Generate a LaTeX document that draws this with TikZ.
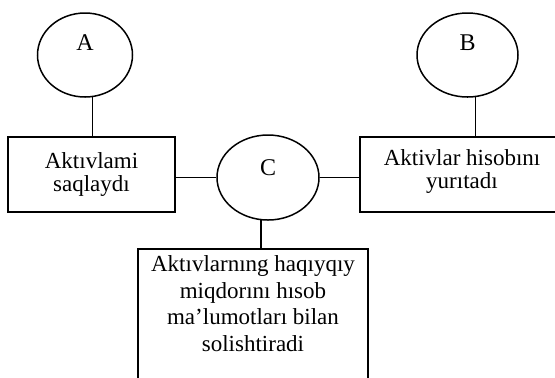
\documentclass[tikz,border=0pt]{standalone}
\usepackage{fontspec}
\setmainfont{Liberation Serif}
\usetikzlibrary{shapes,positioning}

\begin{document}
\begin{tikzpicture}[
    x=0.5pt, y=-0.5pt,
    line width=0.75pt,
    oval/.style={ellipse, draw, inner sep=0pt, font=\fontsize{12}{14}\selectfont, text height=3pt, text depth=8pt},
    box/.style={rectangle, draw, align=center, inner sep=0pt, font=\fontsize{11.5}{11.5}\selectfont}
]
    \useasboundingbox (0,0) rectangle (555,377);
    \clip (0,0) rectangle (555,377);

    % Circles
    \node[oval, minimum width=47.5pt, minimum height=42pt] (A) at (85,55) {A};
    \node[oval, minimum width=50.5pt, minimum height=42pt] (B) at (467.5,55) {B};
    \node[oval, minimum width=51pt, minimum height=42.5pt, text depth=5.5pt] (C) at (268,177.5) {C};

    % Boxes
    \node[box, minimum width=83.5pt, minimum height=37.5pt] (keep) at (91.5,174.5) {Aktıvlami\\saqlaydı};
    \node[box, minimum width=102pt, minimum height=37.5pt, text depth=5pt] (record) at (462,174.5) {Aktivlar hisobını\\yurıtadı};
    \node[box, anchor=north, minimum width=115pt, inner ysep=3.5pt, text depth=60pt,
          font=\fontsize{11.5}{13.3}\selectfont] (compare) at (253,248)
          {Aktıvlarnıng haqıyqıy\\miqdorını hısob\\ma’lumotları bilan\\solishtiradi};

    % Lines
    \draw (A.-80) -- (A.-80 |- keep.north);
    \draw (B.-79) -- (B.-79 |- record.north);
    \draw (C.west) -- (C.west -| keep.east);
    \draw (C.east) -- (C.east -| record.west);
    \draw (C.-99) -- (C.-99 |- compare.north);
\end{tikzpicture}
\end{document}
